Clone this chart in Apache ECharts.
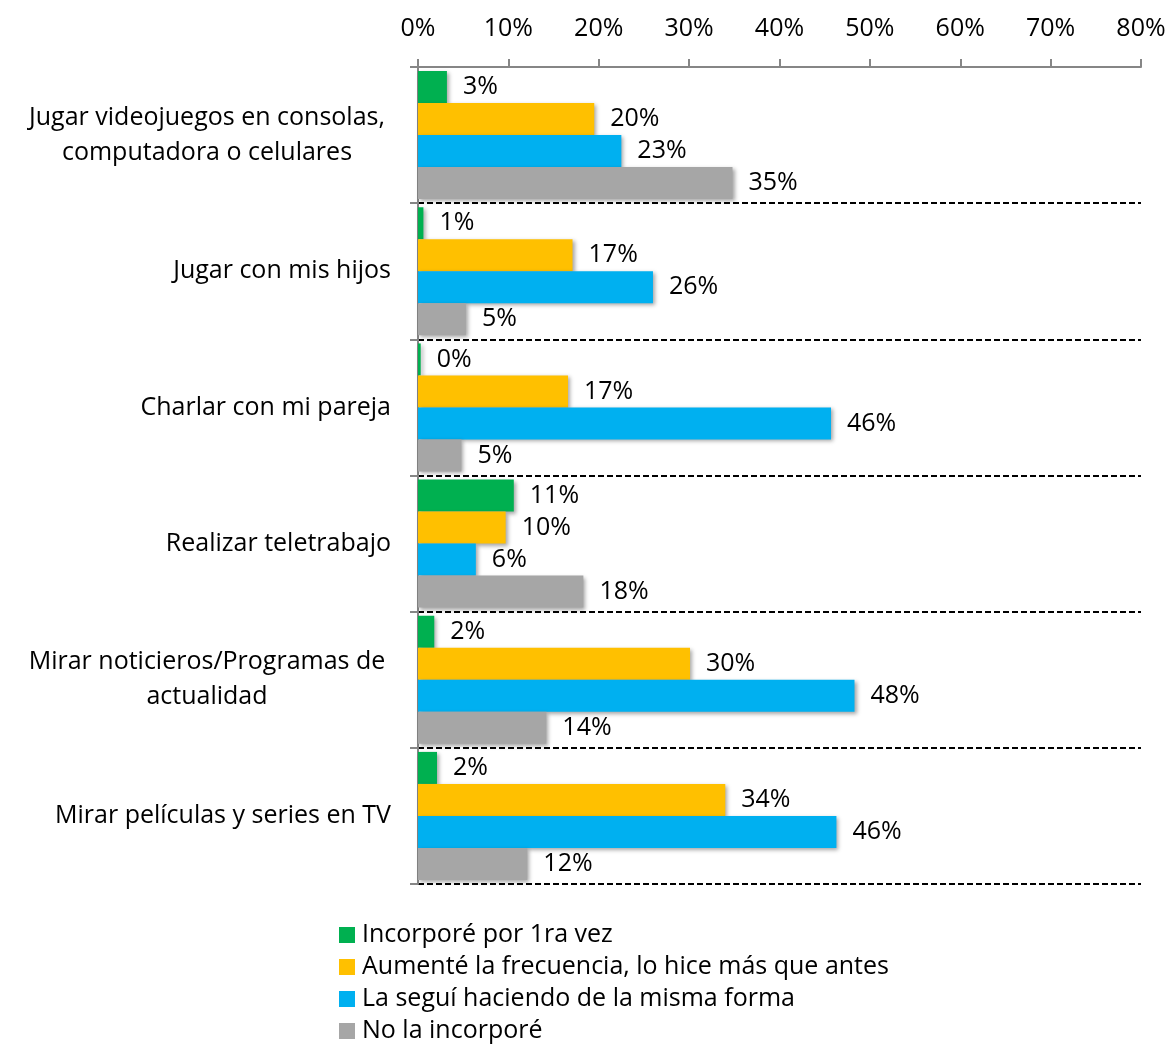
<!DOCTYPE html>
<html>
<head>
<meta charset="utf-8">
<script src="https://cdn.jsdelivr.net/npm/echarts@6/dist/echarts.min.js"></script>
<style>
  html, body { margin: 0; padding: 0; background: #fff; }
  #chart { width: 1171px; height: 1046px; }
</style>
</head>
<body>
<div id="chart"></div>
<script>
const categories = [
  'Jugar videojuegos en consolas,\ncomputadora o celulares',
  'Jugar con mis hijos',
  'Charlar con mi pareja',
  'Realizar teletrabajo',
  'Mirar noticieros/Programas de\nactualidad',
  'Mirar películas y series en TV'
]
const seriesNames = [
  'Incorporé por 1ra vez',
  'Aumenté la frecuencia, lo hice más que antes',
  'La seguí haciendo de la misma forma',
  'No la incorporé'
]
const primeraVez = [3.2, 0.6, 0.3, 10.6, 1.8, 2.1]
const aumente = [19.5, 17.1, 16.6, 9.7, 30.1, 34.0]
const misma = [22.5, 26.0, 45.7, 6.4, 48.3, 46.3]
const noIncorpore = [34.8, 5.3, 4.8, 18.3, 14.2, 12.1]
const colors = ['#00b050', '#ffc000', '#00b0f0', '#a6a6a6']

const font = '"Open Sans", sans-serif'
const fs = 25
const chart = echarts.init(document.getElementById('chart'))

const makeSeries = (name, data, i) => ({
  type: 'bar',
  name: name,
  data: data,
  barGap: 0,
  barCategoryGap: '6%',
  itemStyle: {
    color: colors[i],
    shadowColor: 'rgba(0,0,0,0.35)',
    shadowBlur: 4,
    shadowOffsetX: 2,
    shadowOffsetY: 2
  },
  label: {
    show: true,
    position: 'right',
    distance: 16,
    color: '#000',
    fontFamily: font,
    fontSize: fs,
    formatter: p => Math.round(p.value) + '%'
  }
})

chart.setOption({
  animation: false,
  color: colors,
  grid: {
    left: 418,
    right: 30,
    top: 67,
    bottom: 162
  },
  legend: {
    orient: 'vertical',
    left: 339,
    top: 922,
    height: 124,
    padding: 0,
    itemWidth: 16,
    itemHeight: 16,
    itemGap: 6,
    icon: 'rect',
    textStyle: {
      fontFamily: font,
      fontSize: fs,
      lineHeight: 26,
      color: '#000',
      padding: [0, 0, 0, 2]
    },
    data: seriesNames
  },
  xAxis: {
    type: 'value',
    position: 'top',
    min: 0,
    max: 80,
    interval: 10,
    z: 5,
    axisLine: { show: true, lineStyle: { color: '#868686', width: 2 } },
    axisTick: { show: true, length: 8, lineStyle: { color: '#868686', width: 2 } },
    splitLine: { show: false },
    axisLabel: {
      margin: 26,
      color: '#000',
      fontFamily: font,
      fontSize: fs,
      formatter: '{value}%'
    }
  },
  yAxis: {
    type: 'category',
    inverse: true,
    data: categories,
    axisLine: { show: true, lineStyle: { color: '#868686', width: 2 } },
    axisTick: { show: true, length: 8, lineStyle: { color: '#868686', width: 2 } },
    splitLine: {
      show: true,
      lineStyle: { color: '#000', width: 2, type: [6, 3] }
    },
    axisLabel: {
      margin: 27,
      color: '#000',
      fontFamily: font,
      fontSize: fs,
      lineHeight: 35,
      formatter: v => v.indexOf('\n') >= 0
        ? v.split('\n').map(s => '{c|' + s + '}').join('\n')
        : v,
      rich: {
        c: {
          width: 368,
          align: 'center',
          fontFamily: font,
          fontSize: fs,
          lineHeight: 35,
          color: '#000'
        }
      }
    }
  },
  series: [
    makeSeries(seriesNames[0], primeraVez, 0),
    makeSeries(seriesNames[1], aumente, 1),
    makeSeries(seriesNames[2], misma, 2),
    makeSeries(seriesNames[3], noIncorpore, 3)
  ]
})
</script>
</body>
</html>
